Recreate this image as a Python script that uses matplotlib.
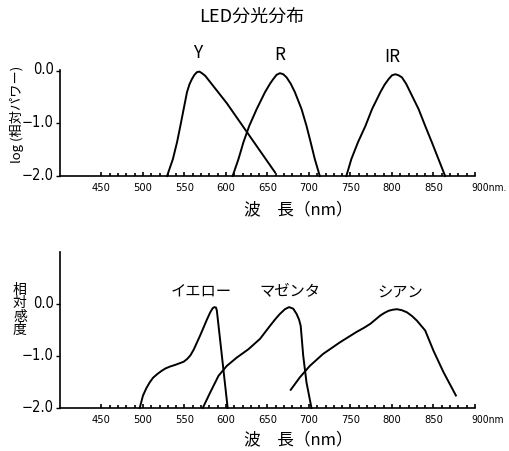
import matplotlib
matplotlib.use("Agg")
import matplotlib.pyplot as plt
from matplotlib import font_manager
from matplotlib.ticker import FixedLocator
from matplotlib.transforms import ScaledTranslation

# ---------------- data ----------------
# top panel: LED spectral distribution, log(relative power)
led_y_nm  = [529, 536, 541, 545, 549, 553, 556, 559, 562, 565, 568, 571, 575, 601, 659]
led_y_val = [-2.0, -1.68, -1.36, -1.05, -0.73, -0.41, -0.26, -0.16, -0.08, -0.03, -0.02, -0.05, -0.10, -0.62, -1.93]
led_r_nm  = [608, 615, 621, 628, 637, 647, 653, 657, 661, 665, 669, 673, 678, 683, 691, 697, 702, 707, 713]
led_r_val = [-2.0, -1.68, -1.36, -1.05, -0.73, -0.41, -0.25, -0.16, -0.08, -0.05, -0.07, -0.13, -0.25, -0.41, -0.73, -1.05, -1.36, -1.68, -2.0]
led_ir_nm  = [745, 751, 759, 768, 776, 786, 791, 796, 800, 804, 808, 812, 817, 822, 832, 840, 848, 856, 864]
led_ir_val = [-2.0, -1.68, -1.36, -1.05, -0.73, -0.41, -0.27, -0.16, -0.09, -0.07, -0.09, -0.13, -0.25, -0.41, -0.73, -1.05, -1.36, -1.68, -2.0]

# bottom panel: relative sensitivity
yel_nm  = [496, 500, 504, 508, 512, 517, 522, 527, 533, 539, 544, 549, 553, 557, 561, 565, 569, 573, 577, 581, 584, 586, 588, 589, 595, 602]
yel_val = [-2.0, -1.76, -1.62, -1.51, -1.42, -1.35, -1.29, -1.24, -1.20, -1.17, -1.14, -1.11, -1.06, -0.99, -0.88, -0.74, -0.60, -0.45, -0.30, -0.16, -0.08, -0.06, -0.07, -0.13, -0.99, -2.0]
mag_nm  = [572, 581, 591, 601, 613, 627, 641, 653, 660, 665, 671, 676, 681, 685, 688, 690, 693, 697, 703]
mag_val = [-2.0, -1.70, -1.38, -1.19, -1.03, -0.87, -0.67, -0.42, -0.28, -0.19, -0.10, -0.06, -0.09, -0.19, -0.30, -0.42, -0.99, -1.51, -2.0]
cya_nm  = [678, 689, 701, 717, 737, 757, 766, 774, 780, 786, 791, 796, 801, 806, 812, 818, 824, 830, 840, 850, 862, 877]
cya_val = [-1.65, -1.41, -1.19, -0.96, -0.74, -0.54, -0.46, -0.38, -0.30, -0.22, -0.17, -0.13, -0.11, -0.10, -0.12, -0.16, -0.23, -0.32, -0.51, -0.90, -1.31, -1.76]

major_ticks = [450, 500, 550, 600, 650, 700, 750, 800, 850, 900]
minor_ticks = list(range(450, 901, 10))
y_ticks = [0.0, -1.0, -2.0]
y_tick_labels = ["0.0", "\u22121.0", "\u22122.0"]

top_labels = ["Y", "R", "IR"]
bot_labels = ["イエロー", "マゼンタ", "シアン"]

# ---------------- fonts ----------------
names = {f.name for f in font_manager.fontManager.ttflist}
if "Liberation Sans Narrow" in names:
    NUMFONT = dict(family="Liberation Sans Narrow")
else:
    NUMFONT = dict(family="DejaVu Sans", stretch="condensed")
JP = ["Noto Sans CJK JP", "DejaVu Sans"]

W, H = 510, 452
fig = plt.figure(figsize=(W / 100, H / 100), dpi=100)
fig.patch.set_facecolor("white")


def ft(x, y, s, **kw):
    fig.text(x / W, 1 - y / H, s, **kw)


def style_axes(ax, ylim, last_label):
    ax.set_xlim(400, 900)
    ax.set_ylim(*ylim)
    for s in ("top", "right"):
        ax.spines[s].set_visible(False)
    ax.spines["left"].set_bounds(-2.0, ylim[1])
    ax.spines["left"].set_linewidth(1.2)
    ax.spines["bottom"].set_linewidth(1.2)
    ax.xaxis.set_major_locator(FixedLocator(major_ticks))
    ax.xaxis.set_minor_locator(FixedLocator(minor_ticks))
    ax.set_xticklabels([str(t) for t in major_ticks[:-1]] + [""], fontsize=8, **NUMFONT)
    ax.tick_params(axis="x", which="major", direction="in", length=3, width=1.2, pad=4)
    ax.tick_params(axis="x", which="minor", direction="in", length=2, width=1.2)
    ax.set_yticks(y_ticks)
    ax.set_yticklabels(y_tick_labels, fontsize=10.5, **NUMFONT)
    ax.tick_params(axis="y", direction="out", length=3, width=1.0, pad=1.5)
    up = ScaledTranslation(0, 2.5 / 72, fig.dpi_scale_trans)
    for lab in ax.get_yticklabels():
        lab.set_transform(lab.get_transform() + up)
    ax.annotate(last_label, xy=(900, 0), xycoords=("data", "axes fraction"),
                xytext=(-2.5, -4), textcoords="offset points", ha="left", va="top",
                fontsize=7.5, **NUMFONT)


lw = 1.4
# ---------- top panel ----------
ax1 = fig.add_axes([60 / W, 1 - 177 / H, 415 / W, 106.5 / H])
style_axes(ax1, (-2.0, 0.02), "900nm.")
for xs, ys in ((led_y_nm, led_y_val), (led_r_nm, led_r_val), (led_ir_nm, led_ir_val)):
    ax1.plot(xs, ys, color="black", lw=lw, clip_on=False, solid_joinstyle="round")

# ---------- bottom panel ----------
ax2 = fig.add_axes([60 / W, 1 - 409 / H, 415 / W, 156 / H])
style_axes(ax2, (-2.0, 1.0), "900nm")
for xs, ys in ((yel_nm, yel_val), (mag_nm, mag_val), (cya_nm, cya_val)):
    ax2.plot(xs, ys, color="black", lw=lw, clip_on=False, solid_joinstyle="round")

# ---------- texts ----------
ft(252, 17, "LED分光分布", family=JP, fontsize=13, ha="center", va="center")
for s, (x, y) in zip(top_labels, [(198, 53), (280, 55), (392, 57)]):
    ft(x, y, s, family=JP, fontsize=12.5, ha="center", va="center")
for s, (x, y) in zip(bot_labels, [(201, 292), (290, 292), (400, 293)]):
    ft(x, y, s, family=JP, fontsize=11, ha="center", va="center")

ft(298, 210, "波　長（nm）", family=JP, fontsize=12, ha="center", va="center")
ft(298, 440, "波　長（nm）", family=JP, fontsize=12, ha="center", va="center")

ft(17, 114, "log (相対パワー)", family=JP, fontsize=9.5, ha="center", va="center", rotation=90)
ft(20, 310, "相\n対\n感\n度", family=JP, fontsize=10, ha="center", va="center", linespacing=0.95)

fig.savefig("out.png", dpi=100, facecolor="white")
